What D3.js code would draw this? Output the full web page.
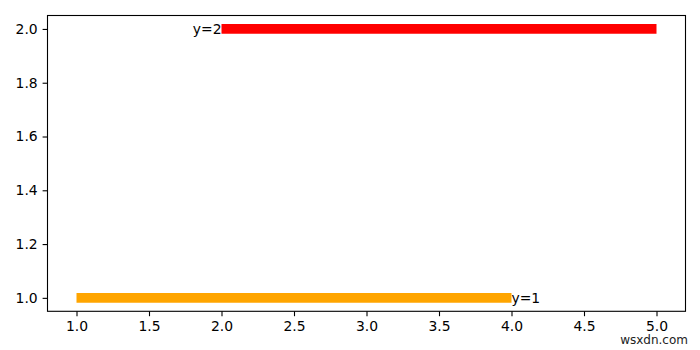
<!DOCTYPE html>
<html><head><meta charset="utf-8">
<script src="https://cdn.jsdelivr.net/npm/d3@7"></script>
<style>body{margin:0;background:#fff}svg{display:block}</style>
</head><body>
<svg id="c" width="700" height="350"></svg>
<script>
const segments = [
  {label: "y=1", y: 1, x0: 1, x1: 4, color: "orange", labelAt: "end"},
  {label: "y=2", y: 2, x0: 2, x1: 5, color: "red", labelAt: "start"}
];
const xTicks = [1.0, 1.5, 2.0, 2.5, 3.0, 3.5, 4.0, 4.5, 5.0];
const yTicks = [1.0, 1.2, 1.4, 1.6, 1.8, 2.0];
const xDomain = [0.8, 5.2];
const yDomain = [0.95, 2.05];

const W = 700, H = 350;
const m = {left: 47.5, right: 685.5, top: 15.5, bottom: 311.3};
const svg = d3.select("#c");
const font = "DejaVu Sans, sans-serif";
const x = d3.scaleLinear().domain(xDomain).range([m.left, m.right]);
const y = d3.scaleLinear().domain(yDomain).range([m.bottom, m.top]);

svg.append("rect").attr("width", W).attr("height", H).attr("fill", "#fff");

// lines
svg.selectAll("line.seg").data(segments).join("line")
  .attr("class", "seg")
  .attr("x1", d => x(d.x0)).attr("x2", d => x(d.x1))
  .attr("y1", d => y(d.y)).attr("y2", d => y(d.y))
  .attr("stroke", d => d.color).attr("stroke-width", 9.7)
  .attr("stroke-linecap", "butt");

svg.selectAll("text.lab").data(segments).join("text")
  .attr("class", "lab")
  .attr("x", d => d.labelAt === "end" ? x(d.x1) : x(d.x0))
  .attr("y", d => y(d.y))
  .attr("dy", "0.35em")
  .attr("text-anchor", d => d.labelAt === "end" ? "start" : "end")
  .attr("font-family", font).attr("font-size", 13.9).attr("fill", "#000")
  .text(d => d.label);

// axes
const xAxis = d3.axisBottom(x).tickValues(xTicks).tickFormat(d3.format(".1f"))
  .tickSize(4.9).tickPadding(4.9);
const yAxis = d3.axisLeft(y).tickValues(yTicks).tickFormat(d3.format(".1f"))
  .tickSize(4.9).tickPadding(4.9);
const gx = svg.append("g").attr("transform", `translate(0,${m.bottom})`).call(xAxis);
const gy = svg.append("g").attr("transform", `translate(${m.left},0)`).call(yAxis);
[gx, gy].forEach(g => {
  g.select(".domain").remove();
  g.selectAll(".tick line").attr("stroke", "#000").attr("stroke-width", 1.1);
  g.selectAll(".tick text").attr("font-family", font).attr("font-size", 13.9).attr("fill", "#000");
});

// frame
svg.append("rect")
  .attr("x", m.left).attr("y", m.top)
  .attr("width", m.right - m.left).attr("height", m.bottom - m.top)
  .attr("fill", "none").attr("stroke", "#000").attr("stroke-width", 1.1);

// watermark
svg.append("text").attr("x", 688).attr("y", 344)
  .attr("text-anchor", "end").attr("font-family", font)
  .attr("font-size", 12).attr("fill", "#222").text("wsxdn.com");
</script>
</body></html>
